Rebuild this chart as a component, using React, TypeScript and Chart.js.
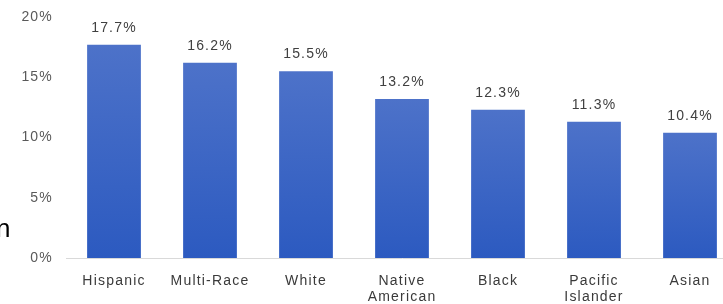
import React, { useEffect, useRef } from 'react';
import { Chart, registerables } from 'chart.js';

Chart.register(...registerables);

const categories: (string | string[])[] = [
  'Hispanic',
  'Multi-Race',
  'White',
  ['Native', 'American'],
  'Black',
  ['Pacific', 'Islander'],
  'Asian',
];
const values = [17.7, 16.2, 15.5, 13.2, 12.3, 11.3, 10.4];
const yMin = 0;
const yMax = 20;
const yStep = 5;

const FONT = '"Liberation Sans", Arial, sans-serif';

const spacingPlugin = {
  id: 'spacing',
  beforeUpdate(chart: any) {
    chart.ctx.letterSpacing = '1.2px';
  },
  beforeDraw(chart: any) {
    chart.ctx.letterSpacing = '1.2px';
  },
};

const valueLabelPlugin = {
  id: 'valueLabels',
  afterDatasetsDraw(chart: any) {
    const ctx = chart.ctx;
    const meta = chart.getDatasetMeta(0);
    ctx.save();
    ctx.font = `14px ${FONT}`;
    ctx.fillStyle = '#404040';
    ctx.textAlign = 'center';
    ctx.textBaseline = 'middle';
    meta.data.forEach((bar: any, i: number) => {
      ctx.fillText(values[i].toFixed(1) + '%', bar.x, bar.y - 17);
    });
    ctx.restore();
  },
};

export default function App() {
  const ref = useRef<HTMLCanvasElement>(null);

  useEffect(() => {
    if (!ref.current) return;
    const chart = new Chart(ref.current, {
      type: 'bar',
      data: {
        labels: categories,
        datasets: [
          {
            data: values,
            backgroundColor: (c: any) => {
              const ch = c.chart;
              if (!ch.chartArea || c.type !== 'data') return '#3a66c4';
              const ys = ch.scales.y;
              const top = ys.getPixelForValue(values[c.dataIndex]);
              const bottom = ys.getPixelForValue(0);
              const g = ch.ctx.createLinearGradient(0, top, 0, bottom);
              g.addColorStop(0, '#4d72c9');
              g.addColorStop(1, '#2c5ac0');
              return g;
            },
            borderWidth: 0,
            categoryPercentage: 1,
            barPercentage: 0.56,
          },
        ],
      },
      options: {
        responsive: false,
        animation: false,
        layout: { padding: { top: 17, right: 22, bottom: 0, left: 0 } },
        plugins: {
          legend: { display: false },
          tooltip: { enabled: false },
        },
        scales: {
          x: {
            grid: { display: false, drawTicks: false },
            border: { display: true, color: '#d9d9d9', width: 1 },
            ticks: {
              color: '#3a3a3a',
              font: { family: FONT, size: 14, lineHeight: 1.15 },
              padding: 15,
              maxRotation: 0,
              autoSkip: false,
            },
            afterFit: (s: any) => {
              s.height = 46;
            },
          },
          y: {
            min: yMin,
            max: yMax,
            grid: { display: false, drawTicks: false },
            border: { display: false },
            ticks: {
              stepSize: yStep,
              color: '#595959',
              font: { family: FONT, size: 14 },
              padding: 13,
              callback: (v: any) => v + '%',
            },
            afterFit: (s: any) => {
              s.width = 66;
              s.paddingTop = 0;
              s.paddingBottom = 0;
            },
          },
        },
      },
      plugins: [spacingPlugin, valueLabelPlugin],
    });
    return () => chart.destroy();
  }, []);

  return (
    <div
      style={{
        position: 'fixed',
        left: 0,
        top: 0,
        width: 723,
        height: 304,
        overflow: 'hidden',
        background: '#ffffff',
      }}
    >
      <canvas
        ref={ref}
        width={760}
        height={304}
        style={{ display: 'block', width: 760, height: 304 }}
      />
      <span
        style={{
          position: 'absolute',
          left: -4,
          top: 215,
          fontFamily: FONT,
          fontSize: 26,
          lineHeight: '26px',
          color: '#000000',
        }}
      >
        n
      </span>
    </div>
  );
}
